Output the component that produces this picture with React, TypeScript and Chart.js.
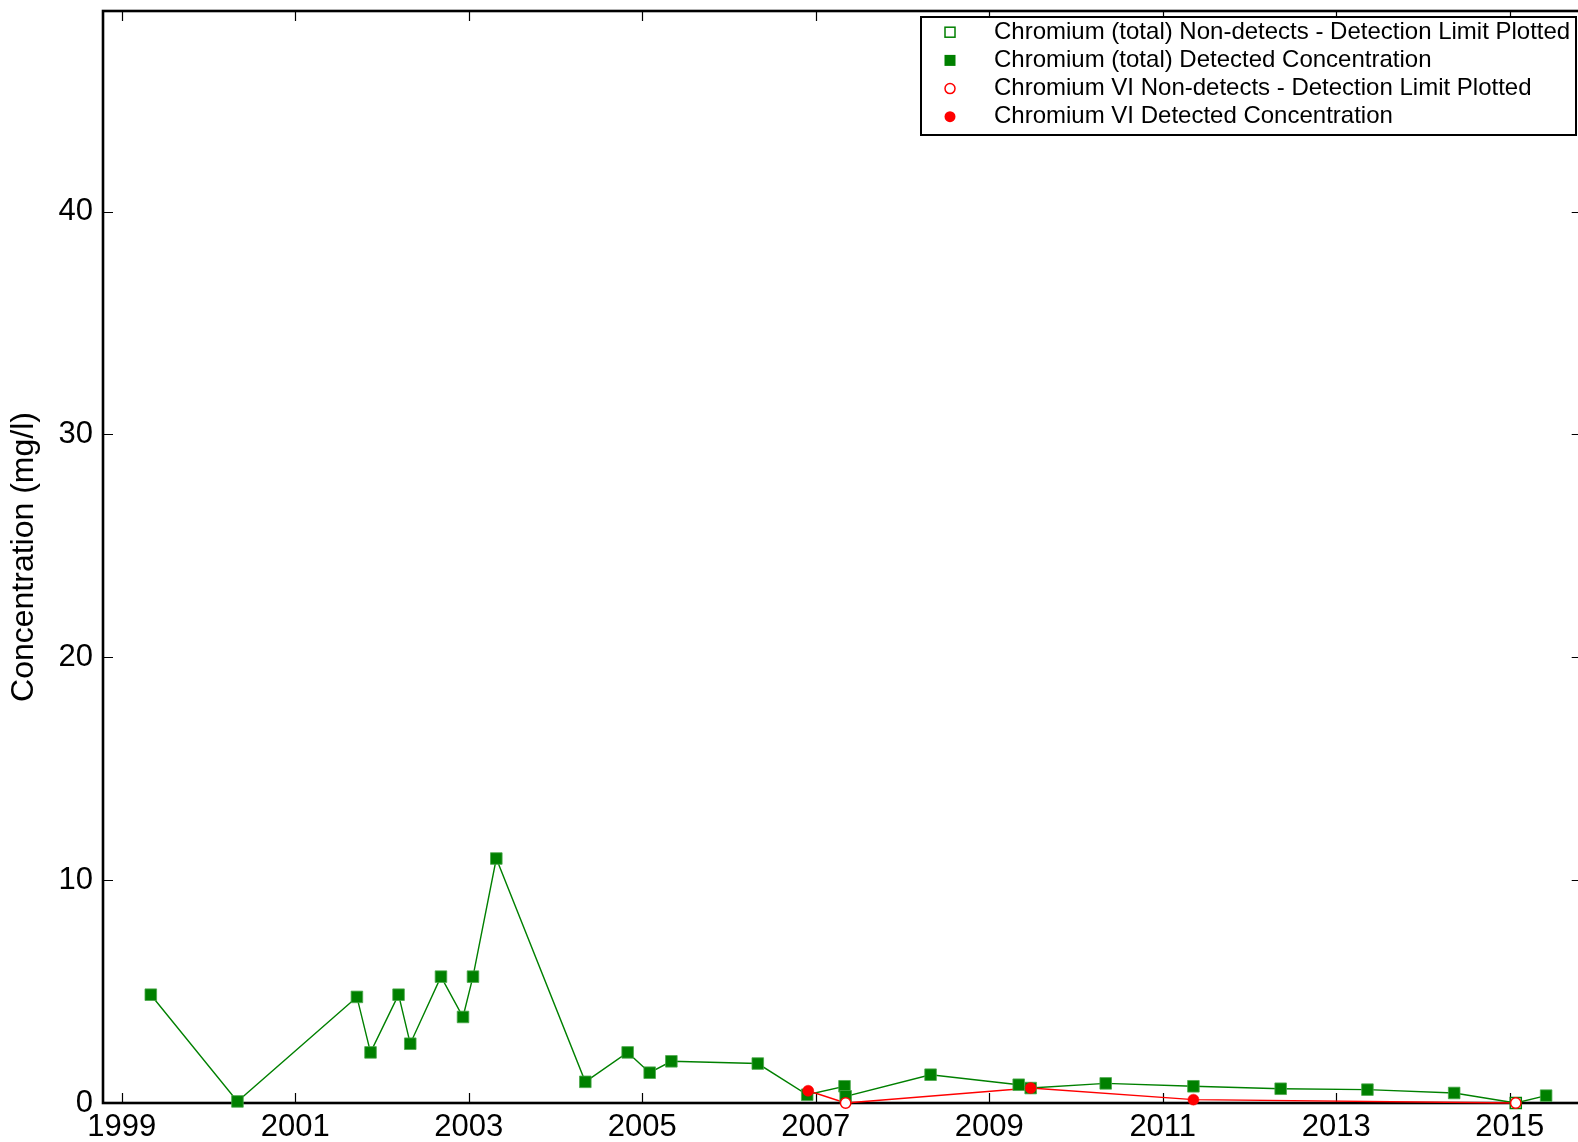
import React, { useEffect, useRef } from "react";
import { Chart, registerables } from "chart.js";

Chart.register(...registerables);

// ---- Data (decimal years, mg/l) ----
const CR_TOTAL_ND_YEARS = [2015.07];
const CR_TOTAL_ND_VALUES = [0.0];

const CR_TOTAL_DET_YEARS = [
  1999.335, 2000.334, 2001.711, 2001.868, 2002.191, 2002.326, 2002.68, 2002.934,
  2003.049, 2003.318, 2004.344, 2004.832, 2005.086, 2005.336, 2006.332, 2006.902,
  2007.332, 2007.345, 2008.324, 2009.34, 2009.478, 2010.343, 2011.354, 2012.36,
  2013.36, 2014.36, 2015.42,
];
const CR_TOTAL_DET_VALUES = [
  4.86, 0.07, 4.76, 2.27, 4.86, 2.66, 5.67, 3.86,
  5.67, 10.97, 0.95, 2.27, 1.36, 1.87, 1.77, 0.37,
  0.75, 0.3, 1.27, 0.82, 0.67, 0.88, 0.75, 0.64,
  0.6, 0.45, 0.33,
];

const CR6_ND_YEARS = [2007.345, 2015.07];
const CR6_ND_VALUES = [0.0, 0.0];

const CR6_DET_YEARS = [2006.913, 2009.478, 2011.354];
const CR6_DET_VALUES = [0.55, 0.67, 0.15];

const X_TICKS = [1999, 2001, 2003, 2005, 2007, 2009, 2011, 2013, 2015];
const Y_TICKS = [0, 10, 20, 30, 40];
const X_MIN = 1998.784;
const X_MAX = 2015.83;
const Y_MIN = 0;
const Y_MAX = 49;

const LEGEND_LABELS = [
  "Chromium (total) Non-detects - Detection Limit Plotted",
  "Chromium (total) Detected Concentration",
  "Chromium VI Non-detects - Detection Limit Plotted",
  "Chromium VI Detected Concentration",
];

const GREEN = "#008000";
const RED = "#ff0000";
const FONT = "'Liberation Sans', Arial, Helvetica, sans-serif";

const VIEW_W = 1578;
const VIEW_H = 1142;
const CANVAS_W = 1591;

function toPoints(xs: number[], ys: number[]) {
  return xs.map((x, i) => ({ x, y: ys[i] }));
}
function merged(a: { x: number; y: number }[], b: { x: number; y: number }[]) {
  return [...a, ...b].sort((p, q) => p.x - q.x);
}

const frameTicksPlugin = {
  id: "frameTicks",
  beforeDatasetsDraw(chart: any) {
    const { ctx, chartArea } = chart;
    const { left, right, top, bottom } = chartArea;
    const xs = chart.scales.x;
    const ys = chart.scales.y;
    ctx.save();
    ctx.strokeStyle = "#000";
    ctx.lineWidth = 1.2;
    ctx.beginPath();
    for (const v of X_TICKS) {
      const px = Math.round(xs.getPixelForValue(v)) + 0.5;
      ctx.moveTo(px, bottom);
      ctx.lineTo(px, bottom - 10);
      ctx.moveTo(px, top);
      ctx.lineTo(px, top + 10);
    }
    for (const v of Y_TICKS) {
      const py = Math.round(ys.getPixelForValue(v)) + 0.5;
      ctx.moveTo(left, py);
      ctx.lineTo(left + 10, py);
      ctx.moveTo(right, py);
      ctx.lineTo(right - 10, py);
    }
    ctx.stroke();
    ctx.lineWidth = 2.6;
    ctx.strokeRect(left, top, right - left, bottom - top);
    ctx.restore();
  },
};

const insideLegendPlugin = {
  id: "insideLegend",
  afterDraw(chart: any) {
    const { ctx } = chart;
    const boxLeft = 921;
    const boxRight = 1576;
    const boxTop = 17;
    const boxBottom = 135;
    ctx.save();
    ctx.fillStyle = "#fff";
    ctx.fillRect(boxLeft, boxTop, boxRight - boxLeft, boxBottom - boxTop);
    ctx.strokeStyle = "#000";
    ctx.lineWidth = 2;
    ctx.strokeRect(boxLeft, boxTop, boxRight - boxLeft, boxBottom - boxTop);

    const rowY = [32.2, 60.4, 88.6, 116.7];
    const mx = 950;
    ctx.font = `24px ${FONT}`;
    ctx.textBaseline = "middle";
    ctx.textAlign = "left";
    LEGEND_LABELS.forEach((label, i) => {
      const y = rowY[i];
      ctx.lineWidth = 1.5;
      if (i === 0) {
        ctx.fillStyle = "#fff";
        ctx.strokeStyle = GREEN;
        ctx.fillRect(mx - 5, y - 5, 10, 10);
        ctx.strokeRect(mx - 5, y - 5, 10, 10);
      } else if (i === 1) {
        ctx.fillStyle = GREEN;
        ctx.fillRect(mx - 5.5, y - 5.5, 11, 11);
      } else if (i === 2) {
        ctx.fillStyle = "#fff";
        ctx.strokeStyle = RED;
        ctx.beginPath();
        ctx.arc(mx, y, 5, 0, Math.PI * 2);
        ctx.fill();
        ctx.stroke();
      } else {
        ctx.fillStyle = RED;
        ctx.beginPath();
        ctx.arc(mx, y, 5.5, 0, Math.PI * 2);
        ctx.fill();
      }
      ctx.fillStyle = "#000";
      ctx.fillText(label, 994, y);
    });
    ctx.restore();
  },
};

export default function App() {
  const canvasRef = useRef<HTMLCanvasElement | null>(null);

  useEffect(() => {
    document.body.style.margin = "0";
    document.body.style.overflow = "hidden";
    const canvas = canvasRef.current;
    if (!canvas) return;

    const totalND = toPoints(CR_TOTAL_ND_YEARS, CR_TOTAL_ND_VALUES);
    const totalDet = toPoints(CR_TOTAL_DET_YEARS, CR_TOTAL_DET_VALUES);
    const cr6ND = toPoints(CR6_ND_YEARS, CR6_ND_VALUES);
    const cr6Det = toPoints(CR6_DET_YEARS, CR6_DET_VALUES);

    const chart = new Chart(canvas, {
      type: "line",
      data: {
        datasets: [
          {
            label: LEGEND_LABELS[3],
            data: cr6Det,
            showLine: false,
            pointStyle: "circle",
            pointRadius: 5.5,
            pointBackgroundColor: RED,
            pointBorderColor: RED,
            pointBorderWidth: 0.5,
            clip: false,
            order: 1,
          },
          {
            label: LEGEND_LABELS[2],
            data: cr6ND,
            showLine: false,
            pointStyle: "circle",
            pointRadius: 5.2,
            pointBackgroundColor: "#fff",
            pointBorderColor: RED,
            pointBorderWidth: 1.5,
            clip: false,
            order: 2,
          },
          {
            label: LEGEND_LABELS[1],
            data: totalDet,
            showLine: false,
            pointStyle: "rect",
            pointRadius: 8.2,
            pointBackgroundColor: GREEN,
            pointBorderColor: "#4aa84a",
            pointBorderWidth: 0.8,
            clip: false,
            order: 3,
          },
          {
            label: LEGEND_LABELS[0],
            data: totalND,
            showLine: false,
            pointStyle: "rect",
            pointRadius: 7.8,
            pointBackgroundColor: "#fff",
            pointBorderColor: GREEN,
            pointBorderWidth: 1.5,
            clip: false,
            order: 4,
          },
          {
            label: "cr6-line",
            data: merged(cr6ND, cr6Det),
            borderColor: RED,
            borderWidth: 1.4,
            pointRadius: 0,
            tension: 0,
            fill: false,
            clip: false,
            order: 5,
          },
          {
            label: "total-line",
            data: merged(totalND, totalDet),
            borderColor: GREEN,
            borderWidth: 1.4,
            pointRadius: 0,
            tension: 0,
            fill: false,
            clip: false,
            order: 6,
          },
        ],
      },
      options: {
        responsive: false,
        animation: false,
        events: [],
        layout: { padding: { top: 11, right: 0, left: 0, bottom: 0 } },
        plugins: {
          legend: { display: false },
          tooltip: { enabled: false },
          title: { display: false },
        },
        scales: {
          x: {
            type: "linear",
            min: X_MIN,
            max: X_MAX,
            grid: { display: false, drawTicks: false },
            border: { display: false },
            ticks: {
              color: "#000",
              font: { family: FONT, size: 31 },
              padding: 6,
              autoSkip: false,
              maxRotation: 0,
              callback: (v: any) => String(v),
            },
            afterBuildTicks: (axis: any) => {
              axis.ticks = X_TICKS.map((v) => ({ value: v }));
            },
            afterFit: (s: any) => {
              s.height = 39;
              s.paddingLeft = 0;
              s.paddingRight = 0;
            },
          },
          y: {
            type: "linear",
            min: Y_MIN,
            max: Y_MAX,
            grid: { display: false, drawTicks: false },
            border: { display: false },
            ticks: {
              color: "#000",
              font: { family: FONT, size: 31 },
              padding: 10,
              callback: (v: any) => String(v),
            },
            afterBuildTicks: (axis: any) => {
              axis.ticks = Y_TICKS.map((v) => ({ value: v }));
            },
            afterFit: (s: any) => {
              s.width = 103;
              s.paddingTop = 0;
              s.paddingBottom = 0;
            },
            title: {
              display: true,
              text: "Concentration (mg/l)",
              color: "#000",
              font: { family: FONT, size: 32 },
              padding: { top: 5, bottom: 0 },
            },
          },
        },
      },
      plugins: [frameTicksPlugin, insideLegendPlugin],
    });

    return () => chart.destroy();
  }, []);

  return (
    <div style={{ width: VIEW_W, height: VIEW_H, position: "relative", overflow: "hidden" }}>
      <canvas
        ref={canvasRef}
        width={CANVAS_W}
        height={VIEW_H}
        style={{ display: "block", width: CANVAS_W, height: VIEW_H }}
      />
    </div>
  );
}
